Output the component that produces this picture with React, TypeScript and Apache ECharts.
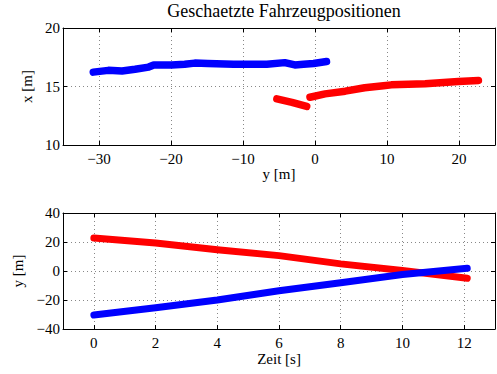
import React, { useEffect, useRef } from "react";
import * as echarts from "echarts";

// Top plot: [y (m), x (m)]
const blueTop: [number, number][] = [
  [-30.8, 16.23], [-28.7, 16.38], [-26.8, 16.32], [-25.0, 16.47], [-23.1, 16.66],
  [-22.4, 16.84], [-19.9, 16.84], [-18.1, 16.9], [-16.7, 17.0], [-14.9, 16.96],
  [-11.3, 16.9], [-6.7, 16.9], [-4.2, 17.04], [-2.8, 16.84], [-1.6, 16.9],
  [-0.2, 16.96], [1.6, 17.13],
];
const redTopA: [number, number][] = [
  [-5.3, 13.94], [-3.2, 13.65], [-1.15, 13.3],
];
const redTopB: [number, number][] = [
  [-0.7, 14.08], [1.4, 14.37], [4.2, 14.6], [6.9, 14.89], [9.5, 15.06],
  [10.6, 15.14], [15.3, 15.23], [19.9, 15.43], [22.7, 15.52],
];
// Bottom plot: time (s) and y (m)
const timeS = [0, 2, 4, 6, 8, 10, 12.1];
const redY = [22.8, 19.3, 14.6, 10.6, 4.9, 0.3, -5.0];
const blueY = [-30.4, -25.3, -20.0, -13.6, -8.1, -2.4, 1.9];

// Tick values
const topXTicks = [-30, -20, -10, 0, 10, 20];
const bottomXTicks = [0, 2, 4, 6, 8, 10, 12];

const FONT = "Liberation Serif";
const BLUE = "#0000ff";
const RED = "#ff0000";

export default function App() {
  const ref = useRef<HTMLDivElement>(null);
  useEffect(() => {
    const chart = echarts.init(ref.current!, null, { renderer: "svg" });
    const txt = { fontFamily: FONT, fontSize: 15, color: "#000" };
    const split = { show: true, lineStyle: { type: [1, 3] as any, color: "#888", width: 1 } };
    const axLine = { show: true, onZero: false, lineStyle: { color: "#000", width: 1 } };
    const tick = { show: true, inside: true, length: 4, lineStyle: { color: "#000" } };
    const fmt = (v: number) => String(v).replace("-", "\u2212");
    const mkX = (gi: number, min: number, max: number, ticks: number[], name: string, gap: number) => [
      {
        type: "value", gridIndex: gi, min, max, position: "bottom",
        name, nameLocation: "middle", nameGap: gap, nameTextStyle: txt,
        axisLine: axLine, axisTick: { ...tick, customValues: ticks }, splitLine: split,
        axisLabel: { ...txt, margin: 6, customValues: ticks, formatter: fmt },
      },
      {
        type: "value", gridIndex: gi, min, max, position: "top",
        axisLine: axLine, axisTick: { ...tick, customValues: ticks }, splitLine: { show: false }, axisLabel: { show: false },
      },
    ];
    const mkY = (gi: number, min: number, max: number, interval: number, name: string, gap: number) => [
      {
        type: "value", gridIndex: gi, min, max, interval, position: "left",
        name, nameLocation: "middle", nameGap: gap, nameTextStyle: txt,
        axisLine: axLine, axisTick: tick, splitLine: split,
        axisLabel: { ...txt, margin: 3, formatter: fmt },
      },
      {
        type: "value", gridIndex: gi, min, max, interval, position: "right",
        axisLine: axLine, axisTick: tick, splitLine: { show: false }, axisLabel: { show: false },
      },
    ];
    const lineS = (xi: number, yi: number, data: any[], color: string, w: number) => ({
      type: "line", xAxisIndex: xi, yAxisIndex: yi, data, showSymbol: false, symbol: "none",
      lineStyle: { color, width: w, cap: "round", join: "round" }, itemStyle: { color },
      silent: true,
    });
    chart.setOption({
      animation: false,
      backgroundColor: "#fff",
      title: {
        text: "Geschaetzte Fahrzeugpositionen", left: 279, top: -3, textAlign: "center",
        textStyle: { fontFamily: FONT, fontSize: 18, fontWeight: "normal", color: "#000" },
      },
      grid: [
        { left: 63, right: 2, top: 28, height: 117, containLabel: false },
        { left: 63, right: 2, top: 213, height: 116, containLabel: false },
      ],
      xAxis: [...mkX(0, -35, 25, topXTicks, "y [m]", 20), ...mkX(1, -1, 13, bottomXTicks, "Zeit [s]", 22)],
      yAxis: [...mkY(0, 10, 20, 5, "x [m]", 26), ...mkY(1, -40, 40, 20, "y [m]", 34)],
      series: [
        lineS(0, 0, blueTop, BLUE, 7.5),
        lineS(0, 0, redTopA, RED, 7.5),
        lineS(0, 0, redTopB, RED, 7.5),
        lineS(2, 2, timeS.map((t, i) => [t, redY[i]]), RED, 7),
        lineS(2, 2, timeS.map((t, i) => [t, blueY[i]]), BLUE, 7),
      ],
    });
    return () => chart.dispose();
  }, []);
  return <div ref={ref} style={{ width: 497, height: 374, position: "absolute", left: 0, top: 0 }} />;
}
